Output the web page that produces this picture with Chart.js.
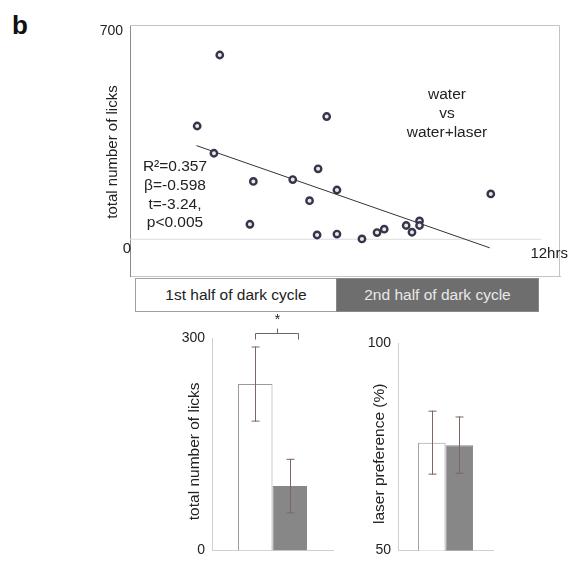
<!DOCTYPE html>
<html>
<head>
<meta charset="utf-8">
<script src="https://cdn.jsdelivr.net/npm/chart.js@4.4.1/dist/chart.umd.min.js"></script>
<style>
  body { margin: 0; background: #fff; font-family: "Liberation Sans", Arial, sans-serif; }
  #fig { position: relative; width: 571px; height: 566px; overflow: hidden; }
  .panel { position: absolute; }
  .tag { position: absolute; left: 12px; top: 12px; font-size: 26px; font-weight: bold; line-height: 26px; color: #111; }
  .cycle { position: absolute; top: 278px; height: 34px; box-sizing: border-box; font-size: 15.5px; line-height: 32px; text-align: center; }
  .first { left: 135px; width: 202px; border: 1px solid #a0a0a0; color: #222; background: #fff; }
  .second { left: 336px; width: 203px; border: 1px solid #888; color: #e8e8e8; background: #6e6e6e; }
</style>
</head>
<body>
<div id="fig">
  <div class="tag">b</div>
  <div class="panel" style="left:0;top:0;width:571px;height:300px"><canvas id="scatter"></canvas></div>
  <div class="panel" style="left:160px;top:300px;width:190px;height:266px"><canvas id="licks"></canvas></div>
  <div class="panel" style="left:350px;top:300px;width:221px;height:266px"><canvas id="pref"></canvas></div>
  <div class="cycle first">1st half of dark cycle</div>
  <div class="cycle second">2nd half of dark cycle</div>
</div>
<script>
// per-session licks vs time into the dark cycle (hrs)
const sessionHours = [2.62, 1.96, 2.45, 3.60, 3.50, 4.75, 5.49, 5.74, 5.24, 6.04,
                      5.46, 6.04, 6.77, 7.21, 7.42, 8.06, 8.23, 8.45, 8.45, 10.53];
const sessionLicks = [602, 370, 281, 189, 49, 195, 230, 401, 126, 161,
                      14, 17, 1, 22, 33, 45, 23, 60, 45, 148];
// linear fit end points
const fitHours = [1.94, 10.5];
const fitLicks = [306, -28];
const axisHours = [0, 12];
const statLines = ['R\u00b2=0.357', '\u03b2=-0.598', 't=-3.24,', 'p<0.005'];
const groupLines = ['water', 'vs', 'water+laser'];

// bar summaries: 1st half / 2nd half of dark cycle
const halves = ['1st half of dark cycle', '2nd half of dark cycle'];
const licksMean = [235, 91];
const licksErr = [53, 38.5];
const prefMean = [76.0, 75.4];
const prefErr = [7.7, 6.9];

const licksTicks = [0, 300];
const prefTicks = [50, 100];
const scatterTicks = [700];

Chart.defaults.font.family = "'Liberation Sans', Arial, sans-serif";
Chart.defaults.color = '#222';

const INK = '#222';
const AXIS_W = 40;
const fixWidth = s => { s.width = AXIS_W; };
const zeroHeight = s => { s.height = 0; };
const fixedTicks = vals => s => { s.ticks = vals.map(v => ({ value: v })); };

function text(ctx, str, x, y, size, opts = {}) {
  ctx.save();
  ctx.translate(x, y);
  if (opts.rotate) ctx.rotate(opts.rotate);
  ctx.font = `${size}px 'Liberation Sans', Arial, sans-serif`;
  ctx.fillStyle = opts.color || INK;
  ctx.textAlign = opts.align || 'center';
  ctx.textBaseline = 'middle';
  ctx.fillText(str, 0, 0);
  ctx.restore();
}

const scatterDecor = {
  id: 'scatterDecor',
  beforeDatasetsDraw(chart) {
    const { ctx, chartArea: a } = chart;
    ctx.save();
    ctx.strokeStyle = '#c4c4c4';
    ctx.lineWidth = 1;
    ctx.beginPath();
    ctx.moveTo(a.left, a.top + 0.5);
    ctx.lineTo(a.right - 0.5, a.top + 0.5);
    ctx.lineTo(a.right - 0.5, a.bottom);
    ctx.stroke();
    ctx.restore();
  },
  afterDraw(chart) {
    const { ctx, scales: { x, y } } = chart;
    const y0 = y.getPixelForValue(0);
    text(ctx, '0', x.getPixelForValue(axisHours[0]) - 3, y0 + 10, 15);
    text(ctx, axisHours[1] + 'hrs', x.getPixelForValue(axisHours[1]) + 8, y0 + 15, 15);
    text(ctx, 'total number of licks', 113, 152, 15, { rotate: -Math.PI / 2 });
    statLines.forEach((s, i) => text(ctx, s, 175, 167 + i * 18.7, 15.5));
    groupLines.forEach((s, i) => text(ctx, s, 447, 95 + i * 19, 15.5));
  }
};

new Chart(document.getElementById('scatter'), {
  type: 'scatter',
  data: {
    datasets: [
      {
        data: sessionHours.map((h, i) => ({ x: h, y: sessionLicks[i] })),
        pointStyle: 'circle',
        pointRadius: 3.2,
        pointBorderWidth: 2.4,
        pointBorderColor: '#35354a',
        pointBackgroundColor: '#e8e8ec',
        order: 0
      },
      {
        type: 'line',
        data: fitHours.map((h, i) => ({ x: h, y: fitLicks[i] })),
        borderColor: '#333',
        borderWidth: 1,
        pointRadius: 0,
        order: 1
      },
      {
        type: 'line',
        data: axisHours.map(h => ({ x: h, y: 0 })),
        borderColor: '#dcdcdc',
        borderWidth: 1,
        pointRadius: 0,
        order: 2
      }
    ]
  },
  options: {
    responsive: true,
    maintainAspectRatio: false,
    animation: false,
    layout: { padding: { left: 130 - AXIS_W, top: 25, right: 11, bottom: 24 } },
    plugins: { legend: { display: false }, tooltip: { enabled: false } },
    scales: {
      x: {
        type: 'linear', min: 0, max: 12.55,
        grid: { display: false },
        border: { color: '#c4c4c4' },
        ticks: { display: false },
        afterFit: zeroHeight
      },
      y: {
        min: -120, max: 700,
        grid: { display: false, drawTicks: false },
        border: { color: '#8a8a8a' },
        ticks: { font: { size: 14 }, padding: 7, labelOffset: 6 },
        afterBuildTicks: fixedTicks(scatterTicks),
        afterFit: fixWidth
      }
    }
  },
  plugins: [scatterDecor]
});

function errorBars(errs, title, titleX, bracket) {
  return {
    id: 'errorBars',
    afterDatasetsDraw(chart) {
      const { ctx, scales: { y }, chartArea: a } = chart;
      ctx.save();
      ctx.strokeStyle = '#7d6660';
      ctx.lineWidth = 1;
      chart.data.datasets.forEach((ds, i) => {
        const bar = chart.getDatasetMeta(i).data[0];
        const v = ds.data[0];
        const top = y.getPixelForValue(v + errs[i]);
        const bot = y.getPixelForValue(v - errs[i]);
        const cx = Math.round(bar.x) + 0.5;
        ctx.beginPath();
        ctx.moveTo(cx, top); ctx.lineTo(cx, bot);
        ctx.moveTo(cx - 4, top + 0.5); ctx.lineTo(cx + 4, top + 0.5);
        ctx.moveTo(cx - 4, bot - 0.5); ctx.lineTo(cx + 4, bot - 0.5);
        ctx.stroke();
      });
      ctx.restore();

      if (bracket) {
        const b0 = chart.getDatasetMeta(0).data[0];
        const b1 = chart.getDatasetMeta(1).data[0];
        const l = Math.round(b0.x) + 0.5, r = Math.round(b1.x + 8) + 0.5;
        const by = a.top - 4.5, mid = Math.round((l + r) / 2) + 0.5;
        ctx.save();
        ctx.strokeStyle = '#666';
        ctx.lineWidth = 1;
        ctx.beginPath();
        ctx.moveTo(l, by + 6); ctx.lineTo(l, by); ctx.lineTo(r, by); ctx.lineTo(r, by + 6);
        ctx.moveTo(mid, by); ctx.lineTo(mid, by - 5);
        ctx.stroke();
        ctx.restore();
        text(ctx, '*', mid, by - 13, 14);
      }
      text(ctx, title, titleX, (a.top + a.bottom) / 2 + 7, 15.5, { rotate: -Math.PI / 2 });
    }
  };
}

function barChart(id, means, errs, ticks, min, max, pad, catPct, title, titleX, bracket) {
  return new Chart(document.getElementById(id), {
    type: 'bar',
    data: {
      labels: [''],
      datasets: [
        {
          label: halves[0],
          data: [means[0]],
          backgroundColor: '#ffffff',
          borderColor: '#9a9a9a',
          borderWidth: 1
        },
        {
          label: halves[1],
          data: [means[1]],
          backgroundColor: '#878787',
          borderColor: '#878787',
          borderWidth: 1
        }
      ]
    },
    options: {
      responsive: true,
      maintainAspectRatio: false,
      animation: false,
      layout: { padding: pad },
      datasets: { bar: { categoryPercentage: catPct, barPercentage: 1 } },
      plugins: { legend: { display: false }, tooltip: { enabled: false } },
      scales: {
        x: {
          grid: { display: false },
          border: { color: '#cfcfcf' },
          ticks: { display: false },
          afterFit: zeroHeight
        },
        y: {
          min: min, max: max,
          grid: { display: false, drawTicks: false },
          border: { color: '#cfcfcf' },
          ticks: { font: { size: 14 }, padding: 7 },
          afterBuildTicks: fixedTicks(ticks),
          afterFit: fixWidth
        }
      }
    },
    plugins: [errorBars(errs, title, titleX, bracket)]
  });
}

barChart('licks', licksMean, licksErr, licksTicks, 0, 300,
  { left: 52 - AXIS_W, top: 38, right: 17, bottom: 9 }, 0.57,
  'total number of licks', 35, true);
barChart('pref', prefMean, prefErr, prefTicks, 50, 100,
  { left: 48 - AXIS_W, top: 43, right: 78, bottom: 9 }, 0.58,
  'laser preference (%)', 30, false);
</script>
</body>
</html>
